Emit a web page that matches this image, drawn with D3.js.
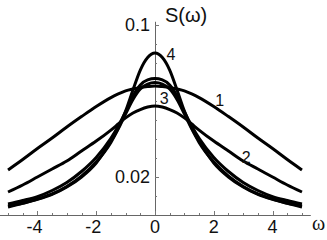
<!DOCTYPE html>
<html>
<head>
<meta charset="utf-8">
<script src="https://cdn.jsdelivr.net/npm/d3@7"></script>
<style>
  body { margin: 0; background: #fff; }
  svg { display: block; font-family: "Liberation Sans", Arial, sans-serif; }
  .axis-line { stroke: #666; stroke-width: 1; }
  .tick-mark { stroke: #777; stroke-width: 1; }
  .tick-label { font-size: 18px; fill: #111; }
  .curve { fill: none; stroke: #000; stroke-width: 3; }
  .curve-label { font-size: 16px; fill: #111; }
</style>
</head>
<body>
<div id="chart"></div>
<script>
// frequency grid (symmetric)
const omega = [-5, -4.5, -4, -3.5, -3, -2.5, -2, -1.5, -1.25, -1, -0.75, -0.5, -0.25, 0,
  0.25, 0.5, 0.75, 1, 1.25, 1.5, 2, 2.5, 3, 3.5, 4, 4.5, 5];

// spectra
const s1 = [0.0237, 0.0292, 0.0350, 0.0405, 0.0463, 0.0518, 0.0571, 0.0618, 0.0637, 0.0653, 0.0663, 0.0671, 0.0676, 0.0679,
  0.0676, 0.0671, 0.0663, 0.0653, 0.0637, 0.0618, 0.0571, 0.0518, 0.0463, 0.0405, 0.0350, 0.0292, 0.0237];
const s2 = [0.0121, 0.0158, 0.0200, 0.0242, 0.0284, 0.0337, 0.0389, 0.0447, 0.0479, 0.0511, 0.0537, 0.0555, 0.0568, 0.0574,
  0.0568, 0.0555, 0.0537, 0.0511, 0.0479, 0.0447, 0.0389, 0.0337, 0.0284, 0.0242, 0.0200, 0.0158, 0.0121];
const s3 = [0.0058, 0.0076, 0.0097, 0.0129, 0.0171, 0.0229, 0.0303, 0.0403, 0.0468, 0.0542, 0.0626, 0.0684, 0.0711, 0.0718,
  0.0711, 0.0684, 0.0626, 0.0542, 0.0468, 0.0403, 0.0303, 0.0229, 0.0171, 0.0129, 0.0097, 0.0076, 0.0058];
const s3b = [0.0047, 0.0063, 0.0084, 0.0111, 0.0150, 0.0205, 0.0279, 0.0382, 0.0453, 0.0532, 0.0608, 0.0663, 0.0689, 0.0697,
  0.0689, 0.0663, 0.0608, 0.0532, 0.0453, 0.0382, 0.0279, 0.0205, 0.0150, 0.0111, 0.0084, 0.0063, 0.0047];
const s4 = [0.0042, 0.0061, 0.0082, 0.0108, 0.0147, 0.0200, 0.0274, 0.0389, 0.0458, 0.0547, 0.0658, 0.0763, 0.0829, 0.0853,
  0.0829, 0.0763, 0.0658, 0.0547, 0.0458, 0.0389, 0.0274, 0.0200, 0.0147, 0.0108, 0.0082, 0.0061, 0.0042];

const curveLabels = [
  { text: "1", w: 2.2, s: 0.0605 },
  { text: "2", w: 3.1, s: 0.0305 },
  { text: "3", w: 0.31, s: 0.0616 },
  { text: "4", w: 0.54, s: 0.0847 }
];

const xTicksMajor = [-4, -2, 0, 2, 4];
const xTicksMinor = d3.range(-5, 5.01, 0.5);
const yTicksMajor = [0.02, 0.1];
const yTicksMinor = d3.range(0.01, 0.1001, 0.01);

const width = 327, height = 240;

const x = d3.scaleLinear().domain([-5.3, 5.3]).range([-0.8, 310.8]);
const y = d3.scaleLinear().domain([0, 0.1]).range([215, 25]);

const svg = d3.select("#chart").append("svg")
  .attr("width", width)
  .attr("height", height);

// axes lines
svg.append("line").attr("class", "axis-line")
  .attr("x1", x(-5.3)).attr("x2", x(5.3))
  .attr("y1", y(0) + 0.5).attr("y2", y(0) + 0.5);
svg.append("line").attr("class", "axis-line")
  .attr("x1", x(0) + 0.5).attr("x2", x(0) + 0.5)
  .attr("y1", y(0)).attr("y2", y(0.1017));

// x ticks (pointing up)
svg.selectAll(".xminor").data(xTicksMinor).enter().append("line")
  .attr("class", "tick-mark")
  .attr("x1", d => Math.round(x(d)) + 0.5).attr("x2", d => Math.round(x(d)) + 0.5)
  .attr("y1", y(0)).attr("y2", d => y(0) - (xTicksMajor.includes(d) ? 4 : 2));

svg.selectAll(".xlabel").data(xTicksMajor).enter().append("text")
  .attr("class", "tick-label")
  .attr("x", d => x(d) + (d < 0 ? -3 : 0))
  .attr("y", 233)
  .attr("text-anchor", "middle")
  .text(d => d < 0 ? "-" + Math.abs(d) : d);

// y ticks (pointing right)
svg.selectAll(".yminor").data(yTicksMinor).enter().append("line")
  .attr("class", "tick-mark")
  .attr("x1", x(0)).attr("x2", d => x(0) + (yTicksMajor.some(t => Math.abs(t - d) < 1e-6) ? 4 : 2))
  .attr("y1", d => Math.round(y(d)) + 0.5).attr("y2", d => Math.round(y(d)) + 0.5);

svg.selectAll(".ylabel").data(yTicksMajor).enter().append("text")
  .attr("class", "tick-label")
  .attr("x", x(0) - 5)
  .attr("y", d => y(d))
  .attr("dy", "0.36em")
  .attr("text-anchor", "end")
  .text(d => d);

// axis titles
svg.append("text").attr("class", "tick-label")
  .attr("x", 165).attr("y", 22)
  .style("font-size", "20px")
  .text("S(ω)");
svg.append("text").attr("class", "tick-label")
  .attr("x", 312).attr("y", 230)
  .style("font-family", "'Liberation Serif', 'Times New Roman', serif")
  .style("font-size", "20px")
  .text("ω");

// curves
const line = d3.line()
  .x((d, i) => x(omega[i]))
  .y(d => y(d))
  .curve(d3.curveMonotoneX);

svg.selectAll(".curve").data([s1, s2, s3, s3b, s4]).enter().append("path")
  .attr("class", "curve")
  .attr("d", d => line(d));

svg.selectAll(".curve-label").data(curveLabels).enter().append("text")
  .attr("class", "curve-label")
  .attr("x", d => x(d.w))
  .attr("y", d => y(d.s))
  .attr("dy", "0.36em")
  .attr("text-anchor", "middle")
  .text(d => d.text);
</script>
</body>
</html>
